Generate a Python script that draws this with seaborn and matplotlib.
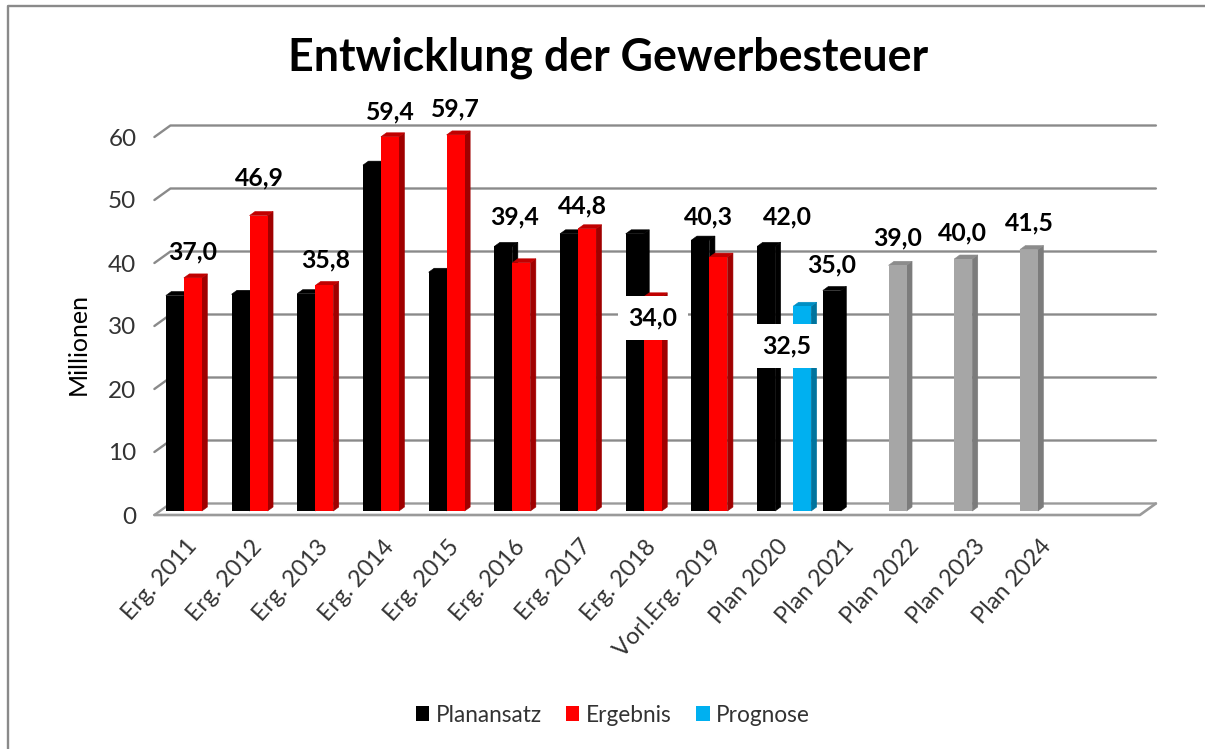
import numpy as np
import pandas as pd
import matplotlib
matplotlib.use("Agg")
import matplotlib.pyplot as plt
from matplotlib.lines import Line2D
from matplotlib.patches import Polygon
from matplotlib.transforms import Affine2D, IdentityTransform
import seaborn as sns

categories = ["Erg. 2011", "Erg. 2012", "Erg. 2013", "Erg. 2014", "Erg. 2015", "Erg. 2016", "Erg. 2017",
              "Erg. 2018", "Vorl.Erg. 2019", "Plan 2020", "Plan 2021", "Plan 2022", "Plan 2023", "Plan 2024"]
planansatz = [34.2, 34.4, 34.5, 54.9, 37.9, 42.0, 44.0, 44.0, 43.0, 42.0, 35.0, 39.0, 40.0, 41.5]
ergebnis = [37.0, 46.9, 35.8, 59.4, 59.7, 39.4, 44.8, 34.0, 40.3, np.nan, np.nan, np.nan, np.nan, np.nan]
prognose = [np.nan] * 9 + [32.5] + [np.nan] * 4
yticks = [0, 10, 20, 30, 40, 50, 60]

W, H = 1205, 749
# front plane of the bars in pixels
LEFT, RIGHT, BOTTOM, TOP = 160.0, 1145.5, 511.0, 133.0

sns.set_theme(style="white")
plt.rcParams["font.family"] = ["Lato", "DejaVu Sans"]

df = pd.DataFrame({"kat": categories, "Planansatz": planansatz, "Ergebnis": ergebnis, "Prognose": prognose})
long_df = df.melt(id_vars="kat", var_name="serie", value_name="wert")

fig = plt.figure(figsize=(W / 100, H / 100), dpi=100, facecolor="white")
ax = fig.add_axes([LEFT / W, 1 - BOTTOM / H, (RIGHT - LEFT) / W, (BOTTOM - TOP) / H])
ax.patch.set_alpha(0)

front = {"Planansatz": "#000000", "Ergebnis": "#ff0000", "Prognose": "#00b0f0"}
side = {"Planansatz": "#000000", "Ergebnis": "#a00000", "Prognose": "#00749e"}
top = {"Planansatz": "#000000", "Ergebnis": "#c00000", "Prognose": "#008fc4"}

sns.barplot(data=long_df, x="kat", y="wert", hue="serie", order=categories,
            hue_order=list(front), palette=front, width=0.822, saturation=1,
            linewidth=0, errorbar=None, ax=ax, zorder=4)
ax.set_xlim(-0.5, 14.5)
ax.set_ylim(0, 60)
ax.set_xlabel("")
ax.set_ylabel("")
sns.despine(ax=ax, left=True, bottom=True)

# back wall: slanted tick + gridline, floor front edge
GRID = "#8a8a8a"
FLOOR = "#9a9a9a"
px = IdentityTransform()
x_left, y_zero = ax.transData.transform((-0.5, 0))
x_right = ax.transData.transform((14.5, 0))[0]
for v in yticks:
    y = ax.transData.transform((0, v))[1]
    col = GRID if v > 0 else FLOOR
    ax.add_line(Line2D([x_left - 5.6, x_left + 10.4, x_right + 10.4], [y - 4, y + 7.5, y + 7.5],
                       color=col, lw=1.7, transform=px, clip_on=False, zorder=1))
ax.add_line(Line2D([x_left - 5.6, x_right - 5.6, x_right + 10.4], [y_zero - 4, y_zero - 4, y_zero + 7.5],
                   color=FLOOR, lw=1.9, transform=px, clip_on=False, zorder=1))

# 3d faces from the bars seaborn drew
px_x = (RIGHT - LEFT) / 15
px_y = (BOTTOM - TOP) / 60
depth_x, depth_y = 5.5 / px_x, 4.0 / px_y
bars = {}
for name, cont in zip(front, ax.containers):
    for bar in cont:
        h = bar.get_height()
        if np.isnan(h) or h == 0:
            continue
        kat = int(round(bar.get_x() + bar.get_width() / 2))
        bars[(name, kat)] = bar
        f, s, t = front[name], side[name], top[name]
        if name == "Planansatz" and kat >= 11:
            f, s, t = "#a6a6a6", "#7c7c7c", "#8c8c8c"
            bar.set_facecolor(f)
        x0, x1 = bar.get_x(), bar.get_x() + bar.get_width()
        order = 2 + 0.01 * kat
        ax.add_patch(Polygon([(x1, 0), (x1 + depth_x, depth_y), (x1 + depth_x, h + depth_y), (x1, h)],
                             closed=True, fc=s, ec=s, lw=0.4, clip_on=False, zorder=order))
        ax.add_patch(Polygon([(x0, h), (x0 + depth_x, h + depth_y), (x1 + depth_x, h + depth_y), (x1, h)],
                             closed=True, fc=t, ec=t, lw=0.4, clip_on=False, zorder=order))

# label placement relative to the top of each bar, in pixels
label_pos = {
    ("Ergebnis", 0): (0, 26), ("Ergebnis", 1): (1, 38), ("Ergebnis", 2): (1, 26), ("Ergebnis", 3): (0, 25),
    ("Ergebnis", 4): (0, 26), ("Ergebnis", 5): (-7, 46), ("Ergebnis", 6): (-5, 23), ("Ergebnis", 7): (0, -21),
    ("Ergebnis", 8): (-10, 40), ("Planansatz", 9): (21, 29), ("Planansatz", 10): (0, 26),
    ("Planansatz", 11): (0, 27), ("Planansatz", 12): (-1, 26), ("Planansatz", 13): (0, 27),
    ("Prognose", 9): (-16, -40),
}
boxed = {("Ergebnis", 7), ("Prognose", 9)}
for key, (ox, oy) in label_pos.items():
    bar = bars[key]
    txt = f"{bar.get_height():.1f}".replace(".", ",")
    ax.annotate(txt, xy=(bar.get_x() + bar.get_width() / 2, bar.get_height()), xytext=(ox, oy),
                textcoords="offset pixels", ha="center", va="center", fontsize=17.8, fontweight="bold",
                color="black", zorder=6, annotation_clip=False,
                bbox=dict(boxstyle="square,pad=0.42", fc="white", ec="none") if key in boxed else None)

ax.set_yticks(yticks)
ax.tick_params(axis="y", length=0, pad=17, labelsize=17.5, labelcolor="#333333")
for lab in ax.get_yticklabels():
    lab.set_transform(lab.get_transform() + Affine2D().translate(0, -4))
ax.set_xticks(range(len(categories)))
ax.set_xticklabels(categories, rotation=48, ha="right", va="center", rotation_mode="anchor",
                   fontsize=16.9, color="#333333")
ax.tick_params(axis="x", length=0, pad=23)

fig.text(78 / W, 1 - 344 / H, "Millionen", rotation=90, ha="center", va="center", fontsize=18, color="black")
fig.text(608.5 / W, 1 - 58 / H, "Entwicklung der Gewerbesteuer", ha="center", va="center",
         fontsize=32.1, fontweight="bold", color="black")

sns.move_legend(ax, loc="center", bbox_to_anchor=(613 / W, 1 - 715 / H), bbox_transform=fig.transFigure,
                ncol=3, frameon=False, title=None, fontsize=16.3, handlelength=0.58, handleheight=0.58,
                columnspacing=1.08, handletextpad=0.3, labelcolor="#333333")

# chart frame
fig.add_artist(Line2D([8 / W, 8 / W, 1], [0, 1 - 6 / H, 1 - 6 / H], color="#8a8a8a", lw=1.7,
                      transform=fig.transFigure))

fig.savefig("out.png", dpi=100)
